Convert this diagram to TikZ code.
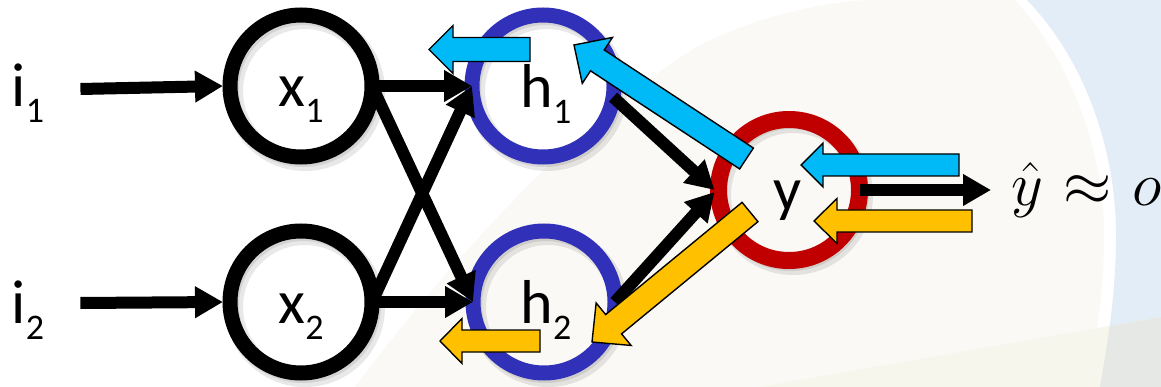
\RequirePackage{fix-cm}
\documentclass[tikz,border=0pt]{standalone}
\usepackage{fontspec}
\setmainfont{Carlito}
\usetikzlibrary{arrows.meta,calc}

\definecolor{ringblue}{HTML}{3030B8}
\definecolor{ringred}{HTML}{C00000}
\definecolor{gradblue}{HTML}{00B9F7}
\definecolor{gradorange}{HTML}{FFC000}
\definecolor{paper}{HTML}{FAF9F5}
\definecolor{sky}{HTML}{E3EDF7}
\definecolor{paperlow}{HTML}{F6F6EC}
\definecolor{skylow}{HTML}{E6E8E5}

% unit name with a lowered index, as in x_1
\newcommand\unitlbl[2]{#1\raisebox{-16pt}{\fontsize{36}{36}\selectfont #2}}

% block arrow: colour, tail, tip, shaft half width, head half width, head length
\newcommand\gradarrow[6]{%
  \coordinate (ga-h) at ($(#3)!#6!(#2)$);
  \filldraw[fill=#1, draw=black, line width=1.4pt, line join=miter]
    ($(#2)!#4!90:(#3)$) -- ($(ga-h)!#4!-90:(#2)$) -- ($(ga-h)!#5!-90:(#2)$)
    -- (#3) -- ($(ga-h)!#5!90:(#2)$) -- ($(ga-h)!#4!90:(#2)$)
    -- ($(#2)!#4!-90:(#3)$) -- cycle;
}

\begin{document}
\begin{tikzpicture}[x=1pt,y=-1pt,
  neuron/.style={circle, minimum size=142pt, inner sep=0pt, outer sep=0pt, line width=15pt},
  ringshadow/.style={draw=black, line width=18pt, opacity=0.09},
  lbl/.style={inner sep=0pt, font=\fontsize{62}{62}\selectfont},
  conn/.style={line width=12pt, -{Triangle[length=28pt,width=30pt]}}
]
\useasboundingbox (0,0) rectangle (1161,387);

% backdrop
\fill[white] (0,0) rectangle (1161,387);
\fill[paper] (355,387) .. controls (420,300) and (560,130) .. (700,45)
  .. controls (760,15) and (830,0) .. (880,0) -- (1015,0)
  .. controls (1070,60) and (1104,150) .. (1104,235)
  .. controls (1104,300) and (1094,350) .. (1088,387) -- cycle;
\fill[sky] (1027,0) .. controls (1085,60) and (1116,150) .. (1116,235)
  .. controls (1116,300) and (1106,350) .. (1100,387) -- (1161,387) -- (1161,0) -- cycle;
\begin{scope}
  \clip (760,387) -- (1161,317) -- (1161,387) -- cycle;
  \fill[paperlow] (700,300) rectangle (1161,387);
  \fill[skylow] (1027,0) .. controls (1085,60) and (1116,150) .. (1116,235)
    .. controls (1116,300) and (1106,350) .. (1100,387) -- (1161,387) -- (1161,0) -- cycle;
\end{scope}

% soft shadows under the rings
\foreach \cx/\cy in {301/86, 301/302, 543/86, 544/302, 789/190}{
  \draw[ringshadow] (\cx+4,\cy+5) circle[radius=71pt];
  \draw[ringshadow, line width=14pt] (\cx+2,\cy+3) circle[radius=71pt];
}

% units
\node[neuron, draw=black] (x1) at (301,86) {};
\node[neuron, draw=black] (x2) at (301,302) {};
\node[neuron, draw=ringblue] (h1) at (543,86) {};
\node[neuron, draw=ringblue] (h2) at (544,302) {};
\node[neuron, draw=ringred, line width=17pt, minimum size=141pt] (y) at (789,190) {};

% labels
\node[lbl, anchor=base] (i1) at (28,107) {\unitlbl{i}{1}};
\node[lbl, anchor=base] (i2) at (28,323) {\unitlbl{i}{2}};
\node[lbl, anchor=base] (x1t) at ([yshift=-21pt]x1.center) {\unitlbl{x}{1}};
\node[lbl, anchor=base] (x2t) at ([yshift=-21pt]x2.center) {\unitlbl{x}{2}};
\node[lbl, anchor=base] (h1t) at (546,108) {\unitlbl{h}{1}};
\node[lbl, anchor=base] (h2t) at (546,323) {\unitlbl{h}{2}};
\node[lbl, anchor=base] (yt) at (788,211) {y};
\node[inner sep=0pt, anchor=base west, font=\fontsize{62}{62}\selectfont] (out) at (1011,206)
  {$\hat{y}\mskip1mu\approx\mskip1mu o$};

% forward connections
\draw[conn] ([xshift=36pt,yshift=18pt]i1.base east) -- ([xshift=-7pt]x1.west);
\draw[conn] ([xshift=36pt,yshift=20pt]i2.base east) -- ([xshift=-7pt]x2.west);
\draw[conn] (x1.east) -- (h1.west);
\draw[conn] (x1.east) -- (h2.west);
\draw[conn] (x2.east) -- (h1.west);
\draw[conn] (x2.east) -- (h2.west);
\draw[conn] (h1.-9) -- ([xshift=-4pt]y.west);
\draw[conn] (h2.east) -- ([xshift=-4pt,yshift=-2pt]y.west);
\draw[conn, shorten >=20pt] (y.east) -- (y.east -| out.west);

% error signals flowing back
\coordinate (gA0) at (530,49.5);   \coordinate (gA1) at (429,49.5);
\coordinate (gB0) at (746.5,158.5);\coordinate (gB1) at (574,45);
\coordinate (gC0) at (959,165);    \coordinate (gC1) at (801,165);
\coordinate (gD0) at (972,221);    \coordinate (gD1) at (814,221);
\coordinate (gE0) at (750,212);    \coordinate (gE1) at (592,342);
\coordinate (gF0) at (540,341);    \coordinate (gF1) at (440,341);
\gradarrow{gradblue}{gA0}{gA1}{12pt}{24pt}{24pt}
\gradarrow{gradblue}{gB0}{gB1}{12.5pt}{27.5pt}{28pt}
\gradarrow{gradblue}{gC0}{gC1}{11pt}{22pt}{22pt}
\gradarrow{gradorange}{gD0}{gD1}{11pt}{22.5pt}{23pt}
\gradarrow{gradorange}{gE0}{gE1}{12.5pt}{27.5pt}{28pt}
\gradarrow{gradorange}{gF0}{gF1}{11pt}{22.5pt}{22pt}
\end{tikzpicture}
\end{document}
